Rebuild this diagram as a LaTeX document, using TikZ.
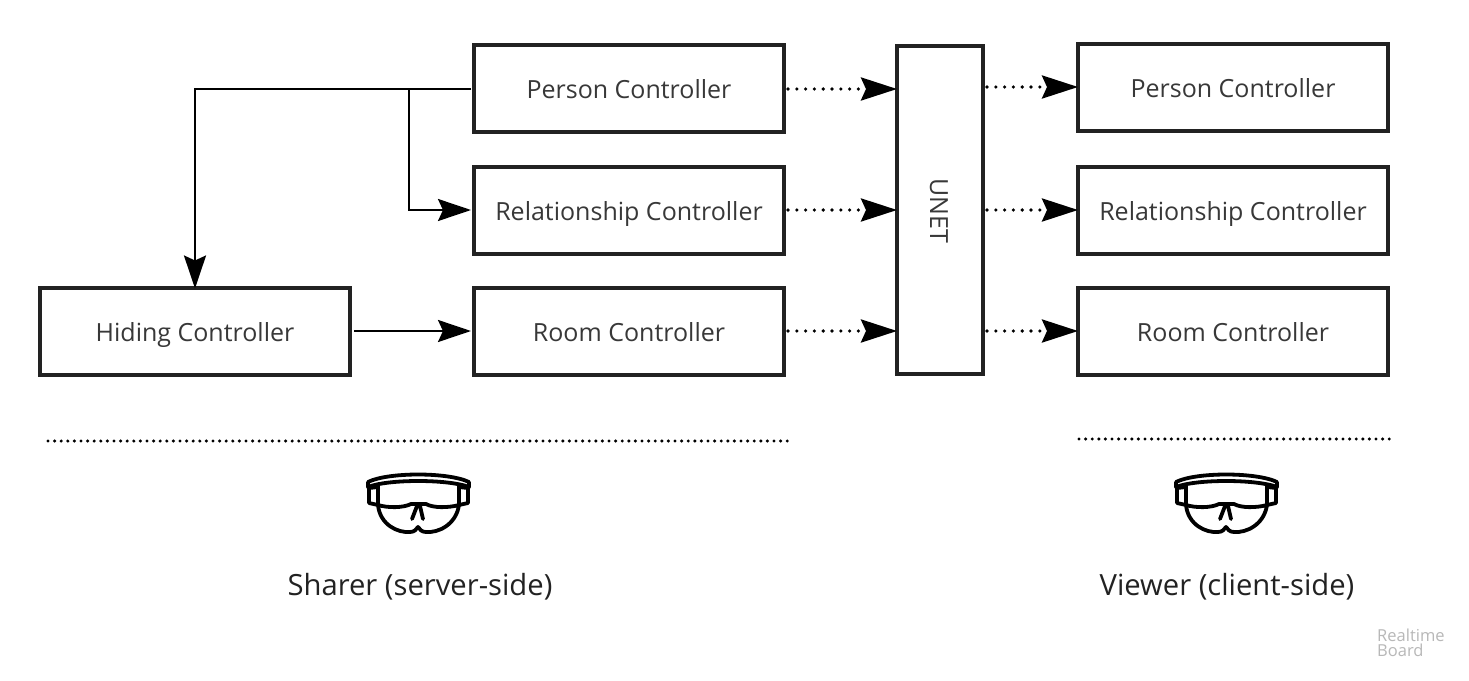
\documentclass[tikz,border=0pt]{standalone}
\usepackage{fontspec}
\setmainfont{Open Sans}
\usetikzlibrary{arrows.meta}
\definecolor{ink}{HTML}{222222}
\tikzset{
  x=1pt,y=-1pt,
  box/.style={draw=ink,line width=4pt,minimum width=310pt,minimum height=87pt,outer sep=0pt,inner sep=0pt,text height=22pt,text depth=2pt,font=\fontsize{25}{29}\selectfont,text=ink!90,fill=white},
  link/.style={draw=black,line width=2.4pt,-{Stealth[length=33pt,width=22pt,inset=5pt]}},
  plain/.style={draw=black,line width=2.4pt},
  dotlink/.style={draw=black,line width=3.6pt,line cap=round,dash pattern=on 0pt off 8.8pt,-{Stealth[length=36pt,width=23pt,inset=5pt]}},
  sep/.style={draw=black,line width=3.4pt,line cap=round,dash pattern=on 0pt off 6.6pt},
  caption/.style={font=\fontsize{29.2}{34}\selectfont,text=ink,inner sep=0pt,text height=25pt,text depth=4pt},
  goggle/.pic={
    \draw[line width=3.8pt,black,line join=round,line cap=round]
      (-50,-18) .. controls (-30,-28) and (30,-28) .. (51,-18)
      (-50,-18) -- (-50,-13) .. controls (-30,-21) and (30,-21) .. (51,-13) -- (51,-18)
      (-40,-14) -- (-40,5) .. controls (-30,8) and (-15,8) .. (-7,4) -- (8,4) .. controls (15,8) and (30,8) .. (41,5) -- (41,-14)
      (-40,-13) -- (-49,-12) -- (-49,3) -- (-40,5)
      (41,-13) -- (50,-12) -- (50,3) -- (41,5)
      (-40,5) .. controls (-38,25) and (-20,33) .. (-8,32) .. controls (-3,32) and (-2,29) .. (0,27) .. controls (2,29) and (3,32) .. (8,32) .. controls (20,33) and (38,25) .. (41,5)
      (-6,19) -- (-1,6) (2,6) -- (5,19);
  }
}
\begin{document}
\begin{tikzpicture}
\useasboundingbox (0,0) rectangle (1469,680);
\fill[white] (0,0) rectangle (1469,680);
\node[box] (lp) at (629,88) {Person Controller};
\node[box] (lr) at (629,210) {Relationship Controller};
\node[box] (lm) at (629,331) {Room Controller};
\node[box] (hc) at (195,331) {Hiding Controller};
\node[box,minimum width=86pt,minimum height=328pt] (un) at (940,210) {};
\node[font=\fontsize{25}{29}\selectfont,text=ink!90,rotate=-90,inner sep=0pt] (unl) at (939,211) {UNET};
\node[box] (rp) at (1233,87) {Person Controller};
\node[box] (rr) at (1233,210) {Relationship Controller};
\node[box] (rm) at (1233,331) {Room Controller};
% solid connectors
\coordinate (pw) at ([xshift=-3pt]lp.west);
\coordinate (branch) at (409,89);
\draw[link,shorten >=-1pt] (pw |- branch) -| (hc.north);
\draw[link,shorten >=3pt] (branch) |- (lr.west);
\draw[link,shorten >=3pt] ([xshift=4pt]hc.east) -- (lm.west);
% dotted connectors
\draw[dotlink] ([xshift=4pt]lp.east |- branch) -- (un.west |- branch);
\draw[dotlink] ([xshift=4pt]lr.east) -- (un.west |- lr.east);
\draw[dotlink] ([xshift=4pt]lm.east) -- (un.west |- lm.east);
\draw[dotlink] ([xshift=4pt]un.east |- rp.west) -- (rp.west);
\draw[dotlink] ([xshift=4pt]un.east |- rr.west) -- (rr.west);
\draw[dotlink] ([xshift=4pt]un.east |- rm.west) -- (rm.west);
% separators
\coordinate (s1a) at (48,441); \coordinate (s1b) at (790,441);
\coordinate (s2a) at (1079,439); \coordinate (s2b) at (1392,439);
\draw[sep] (s1a) -- (s1b);
\draw[sep] (s2a) -- (s2b);
\pic at (418,500) {goggle};
\pic at (1226,500) {goggle};
\node[caption] (c1) at (420,585) {Sharer (server-side)};
\node[caption] (c2) at (1227,585) {Viewer (client-side)};
\node[anchor=west,align=left,text=black!28,inner sep=0pt,font=\fontsize{16.5}{15}\selectfont] (rb) at (1377,643) {Realtime\\Board};
\end{tikzpicture}
\end{document}
